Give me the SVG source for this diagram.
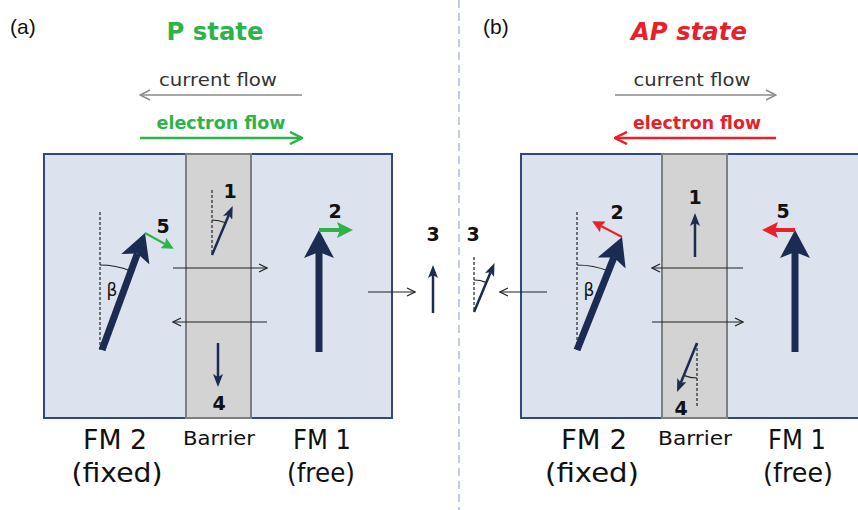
<svg xmlns="http://www.w3.org/2000/svg" width="858" height="510" viewBox="0 0 858 510">
<style>
.box{fill:#dce3ee;stroke:#2e4a7d;stroke-width:2}
.bar{fill:#d3d3d3;stroke:#7f7f7f;stroke-width:2}
.big{stroke:#1b2b52;stroke-width:7;fill:none;marker-end:url(#mBig)}
.sm{stroke:#1b2b52;stroke-width:2.5;fill:none;marker-end:url(#mSm)}
.thin{stroke:#222;stroke-width:1.2;fill:none;marker-end:url(#mOpen)}
.dash{stroke:#222;stroke-width:1.2;stroke-dasharray:3,2;fill:none}
.arc{stroke:#222;stroke-width:1.2;fill:none}
.t{font-family:"DejaVu Sans",sans-serif}
.num{font-family:"DejaVu Sans",sans-serif;font-weight:bold;font-size:19px;fill:#111;text-anchor:middle}
.lbl{font-family:"DejaVu Sans",sans-serif;font-size:27px;fill:#111;text-anchor:middle}
.blbl{font-family:"DejaVu Sans",sans-serif;font-size:20px;fill:#111;text-anchor:middle}
</style>
<defs>
<marker id="mBig" viewBox="0 0 28 30" refX="6" refY="15" markerWidth="28" markerHeight="30" markerUnits="userSpaceOnUse" orient="auto"><path d="M0,0 L28,15 L0,30 L6,15 Z" fill="#1b2b52"/></marker>
<marker id="mSm" viewBox="0 0 13 10" refX="3" refY="5" markerWidth="13" markerHeight="10" markerUnits="userSpaceOnUse" orient="auto"><path d="M0,0 L13,5 L0,10 L3,5 Z" fill="#1b2b52"/></marker>
<marker id="mOpen" viewBox="0 0 10 10" refX="9" refY="5" markerWidth="10" markerHeight="10" markerUnits="userSpaceOnUse" orient="auto"><path d="M1,1 L9,5 L1,9" fill="none" stroke="#222" stroke-width="1.2"/></marker>
<marker id="mGray" viewBox="0 0 12 12" refX="11" refY="6" markerWidth="12" markerHeight="12" markerUnits="userSpaceOnUse" orient="auto"><path d="M1,1 L11,6 L1,11" fill="none" stroke="#8a8a8a" stroke-width="1.4"/></marker>
<marker id="mGreenF" viewBox="0 0 14 14" refX="13" refY="7" markerWidth="14" markerHeight="14" markerUnits="userSpaceOnUse" orient="auto"><path d="M1,1 L13,7 L1,13" fill="none" stroke="#2db34a" stroke-width="2.5"/></marker>
<marker id="mRedF" viewBox="0 0 14 14" refX="13" refY="7" markerWidth="14" markerHeight="14" markerUnits="userSpaceOnUse" orient="auto"><path d="M1,1 L13,7 L1,13" fill="none" stroke="#e8202a" stroke-width="2.5"/></marker>
<marker id="mGreen" viewBox="0 0 12 12" refX="2" refY="6" markerWidth="12" markerHeight="12" markerUnits="userSpaceOnUse" orient="auto"><path d="M0,0 L12,6 L0,12 L2,6 Z" fill="#2db34a"/></marker>
<marker id="mRed" viewBox="0 0 12 12" refX="2" refY="6" markerWidth="12" markerHeight="12" markerUnits="userSpaceOnUse" orient="auto"><path d="M0,0 L12,6 L0,12 L2,6 Z" fill="#e8202a"/></marker>
<marker id="mGreenB" viewBox="0 0 16 16" refX="3" refY="8" markerWidth="16" markerHeight="16" markerUnits="userSpaceOnUse" orient="auto"><path d="M0,0 L16,8 L0,16 L3,8 Z" fill="#2db34a"/></marker>
<marker id="mRedB" viewBox="0 0 16 16" refX="3" refY="8" markerWidth="16" markerHeight="16" markerUnits="userSpaceOnUse" orient="auto"><path d="M0,0 L16,8 L0,16 L3,8 Z" fill="#e8202a"/></marker>
</defs>
<rect width="858" height="510" fill="#fff"/>
<line x1="459" y1="0" x2="459" y2="510" stroke="#a9bfdc" stroke-width="1.5" stroke-dasharray="8,5"/>

<!-- Panel a -->
<g id="panel-a">
<text x="10" y="34" font-family="Liberation Sans, sans-serif" font-size="21" fill="#111">(a)</text>
<text x="215" y="40" class="t" font-size="25" font-weight="bold" fill="#2db34a" text-anchor="middle" textLength="97" lengthAdjust="spacingAndGlyphs">P state</text>
<text x="218" y="86" class="t" font-size="18" fill="#333" text-anchor="middle" textLength="118" lengthAdjust="spacingAndGlyphs">current flow</text>
<text x="221" y="129" class="t" font-size="17" font-weight="bold" fill="#2db34a" text-anchor="middle" textLength="129" lengthAdjust="spacingAndGlyphs">electron flow</text>
</g>
<g id="fm2-a"><rect class="box" x="44" y="154" width="348" height="264"/></g>
<g id="barrier-a"><rect class="bar" x="186" y="154" width="65" height="264"/></g>

<!-- Panel b -->
<g id="panel-b">
<text x="483" y="34" font-family="Liberation Sans, sans-serif" font-size="21" fill="#111">(b)</text>
<text x="689" y="40" class="t" font-size="25" font-weight="bold" font-style="italic" fill="#e8202a" text-anchor="middle" textLength="116" lengthAdjust="spacingAndGlyphs">AP state</text>
<text x="692" y="86" class="t" font-size="18" fill="#333" text-anchor="middle" textLength="117" lengthAdjust="spacingAndGlyphs">current flow</text>
<text x="697" y="129" class="t" font-size="17" font-weight="bold" fill="#e8202a" text-anchor="middle" textLength="128" lengthAdjust="spacingAndGlyphs">electron flow</text>
</g>
<g id="fm2-b"><rect class="box" x="521" y="154" width="400" height="264"/></g>
<g id="barrier-b"><rect class="bar" x="662" y="154" width="65" height="264"/></g>

<g id="connectors">
<line x1="302" y1="95" x2="140" y2="95" stroke="#8a8a8a" stroke-width="1.4" marker-end="url(#mGray)"/>
<line x1="140" y1="138" x2="302" y2="138" stroke="#2db34a" stroke-width="2.5" marker-end="url(#mGreenF)"/>
<line x1="615" y1="95" x2="776" y2="95" stroke="#8a8a8a" stroke-width="1.4" marker-end="url(#mGray)"/>
<line x1="776" y1="138" x2="615" y2="138" stroke="#e8202a" stroke-width="2.5" marker-end="url(#mRedF)"/>

<line class="dash" x1="100" y1="212" x2="100" y2="350"/>
<path class="arc" d="M100,265 A85,85 0 0,1 130.5,270.7"/>
<line class="big" x1="102" y1="350" x2="137.4" y2="253.6"/>
<line x1="145" y1="233" x2="165" y2="244" stroke="#2db34a" stroke-width="2" marker-end="url(#mGreen)"/>
<line class="dash" x1="212" y1="190" x2="212" y2="255"/>
<path class="arc" d="M212,220 A35,35 0 0,1 225.5,222.7"/>
<line class="sm" x1="212" y1="255" x2="228.8" y2="215.1"/>
<line class="sm" x1="218" y1="343" x2="218" y2="377"/>
<line class="big" x1="319" y1="352" x2="319" y2="252"/>
<line x1="319" y1="230" x2="340" y2="230" stroke="#2db34a" stroke-width="4" marker-end="url(#mGreenB)"/>
<line class="thin" x1="173" y1="268" x2="267" y2="268"/>
<line class="thin" x1="267" y1="322" x2="173" y2="322"/>
<line class="thin" x1="368" y1="292" x2="415" y2="292"/>
<line class="sm" x1="433" y1="313" x2="433" y2="275"/>

<line class="dash" x1="474" y1="257" x2="474" y2="312"/>
<path class="arc" d="M474,280 A32,32 0 0,1 486.1,282.4"/>
<line class="sm" x1="474" y1="312" x2="490.6" y2="272.3"/>
<line class="thin" x1="547" y1="292" x2="500" y2="292"/>
<line class="dash" x1="577" y1="212" x2="577" y2="350"/>
<path class="arc" d="M577,265 A85,85 0 0,1 608.5,271"/>
<line class="big" x1="577" y1="350" x2="613.9" y2="257.4"/>
<line x1="622" y1="237" x2="601" y2="226" stroke="#e8202a" stroke-width="2" marker-end="url(#mRed)"/>
<line class="sm" x1="695" y1="257" x2="695" y2="223"/>
<line class="thin" x1="743" y1="268" x2="652" y2="268"/>
<line class="thin" x1="652" y1="322" x2="743" y2="322"/>
<line class="dash" x1="697" y1="343" x2="697" y2="407"/>
<path class="arc" d="M697,378 A35,35 0 0,1 683.8,375.4"/>
<line class="sm" x1="697" y1="343" x2="680.8" y2="382.7"/>
<line class="big" x1="795" y1="352" x2="795" y2="252"/>
<line x1="795" y1="230" x2="775" y2="230" stroke="#e8202a" stroke-width="4" marker-end="url(#mRedB)"/>
</g>

<g id="labels">
<text class="t" x="112" y="296" font-size="17" fill="#111" text-anchor="middle">β</text>
<text class="t" x="589" y="296" font-size="17" fill="#111" text-anchor="middle">β</text>
<text class="num" x="163" y="233">5</text>
<text class="num" x="230" y="198">1</text>
<text class="num" x="335" y="218">2</text>
<text class="num" x="433" y="241">3</text>
<text class="num" x="219" y="410">4</text>
<text class="num" x="473" y="241">3</text>
<text class="num" x="617" y="219">2</text>
<text class="num" x="695" y="204">1</text>
<text class="num" x="681" y="415">4</text>
<text class="num" x="783" y="218">5</text>

<text class="lbl" x="115" y="449" textLength="64" lengthAdjust="spacingAndGlyphs">FM 2</text>
<text class="lbl" x="117" y="482" textLength="91" lengthAdjust="spacingAndGlyphs">(fixed)</text>
<text class="blbl" x="219" y="445" textLength="72" lengthAdjust="spacingAndGlyphs">Barrier</text>
<text class="lbl" x="322" y="449" textLength="58" lengthAdjust="spacingAndGlyphs">FM 1</text>
<text class="lbl" x="321" y="482" textLength="68" lengthAdjust="spacingAndGlyphs">(free)</text>
<text class="lbl" x="594" y="449" textLength="66" lengthAdjust="spacingAndGlyphs">FM 2</text>
<text class="lbl" x="592" y="482" textLength="94" lengthAdjust="spacingAndGlyphs">(fixed)</text>
<text class="blbl" x="695" y="445" textLength="74" lengthAdjust="spacingAndGlyphs">Barrier</text>
<text class="lbl" x="797" y="449" textLength="58" lengthAdjust="spacingAndGlyphs">FM 1</text>
<text class="lbl" x="798" y="482" textLength="70" lengthAdjust="spacingAndGlyphs">(free)</text>
</g>
</svg>
